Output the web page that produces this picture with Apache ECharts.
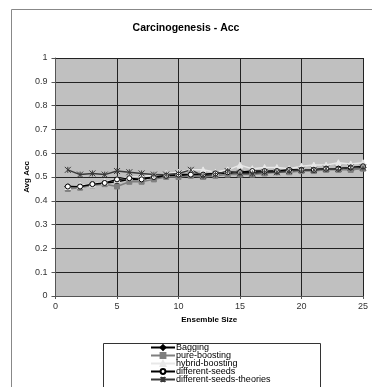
<!DOCTYPE html>
<html><head><meta charset="utf-8">
<script src="https://cdn.jsdelivr.net/npm/echarts@6/dist/echarts.min.js"></script>
<style>html,body{margin:0;padding:0;background:#fff}#c{width:372px;height:387px}</style>
</head><body><div id="c"></div>
<script>
const ensembleSize = [1,2,3,4,5,6,7,8,9,10,11,12,13,14,15,16,17,18,19,20,21,22,23,24,25];
const bagging = [0.46,0.46,0.47,0.475,0.48,0.49,0.49,0.50,0.505,0.505,0.51,0.51,0.515,0.515,0.52,0.52,0.52,0.525,0.525,0.53,0.53,0.535,0.535,0.54,0.54];
const pureBoosting = [0.45,0.455,0.465,0.47,0.46,0.48,0.48,0.49,0.50,0.50,0.505,0.50,0.505,0.51,0.51,0.51,0.515,0.52,0.52,0.525,0.525,0.53,0.53,0.53,0.535];
const hybridBoosting = [0.46,0.465,0.47,0.48,0.49,0.50,0.50,0.51,0.515,0.52,0.53,0.53,0.52,0.53,0.55,0.535,0.54,0.54,0.535,0.545,0.55,0.55,0.56,0.555,0.56];
const differentSeeds = [0.46,0.46,0.47,0.475,0.49,0.495,0.49,0.50,0.505,0.51,0.51,0.51,0.515,0.52,0.52,0.525,0.525,0.525,0.53,0.53,0.53,0.535,0.535,0.54,0.545];
const differentSeedsTheories = [0.53,0.51,0.515,0.51,0.525,0.52,0.515,0.51,0.51,0.515,0.53,0.505,0.51,0.525,0.515,0.515,0.52,0.52,0.525,0.53,0.53,0.535,0.535,0.54,0.54];
const yTicks = [0,0.1,0.2,0.3,0.4,0.5,0.6,0.7,0.8,0.9,1];
const xTicks = [0,5,10,15,20,25];

const pair = arr => ensembleSize.map((x,i)=>[x,arr[i]]);
const F = 'Liberation Sans, Arial, sans-serif';
const star = 'path://M0,0L10,10M10,0L0,10M5,0L5,10';

function mk(name, data, color, symbol, fill, border, size){
  return {name, type:'line', data:pair(data), symbol, symbolSize:size,
    lineStyle:{color, width:1.5}, itemStyle:{color:fill, borderColor:border, borderWidth:1},
    emphasis:{disabled:true}, animation:false};
}

const chart = echarts.init(document.getElementById('c'), null, {renderer:'canvas'});
chart.setOption({
  backgroundColor:'#fff',
  animation:false,
  title:{text:'Carcinogenesis - Acc', left:'center', top:18,
    textStyle:{fontFamily:F, fontSize:10.5, fontWeight:'bold', color:'#000'}},
  graphic:[
    {type:'rect', left:9, top:7, shape:{width:420, height:420}, style:{fill:'none', stroke:'#888', lineWidth:1}, z:-1},
    {type:'rect', left:103, top:343, shape:{width:217, height:60}, style:{fill:'#fff', stroke:'#333', lineWidth:1}, z:0}
  ],
  grid:{left:55.5, right:9, top:58, bottom:91, show:true, backgroundColor:'#c0c0c0', borderColor:'#808080', borderWidth:0},
  xAxis:{type:'value', min:0, max:25, interval:5,
    name:'Ensemble Size', nameLocation:'middle', nameGap:19,
    nameTextStyle:{fontFamily:F, fontSize:8, fontWeight:'bold', color:'#000'},
    axisLine:{show:true, lineStyle:{color:'#555', width:1}},
    axisTick:{show:true, inside:false, length:3, lineStyle:{color:'#555'}},
    axisLabel:{fontFamily:F, fontSize:9, color:'#333', margin:6,
      formatter:v=>xTicks.includes(v)?String(v):''},
    splitLine:{show:true, lineStyle:{color:'#222', width:1}}},
  yAxis:{type:'value', min:0, max:1, interval:0.1,
    name:'Avg Acc', nameLocation:'middle', nameGap:25, nameRotate:90, nameMoveOverlap:false,
    nameTextStyle:{fontFamily:F, fontSize:8, fontWeight:'bold', color:'#000', padding:[0,0,0,0]},
    axisLine:{show:true, lineStyle:{color:'#555', width:1}},
    axisTick:{show:true, inside:false, length:4, lineStyle:{color:'#555'}},
    axisLabel:{fontFamily:F, fontSize:9, color:'#333', margin:8,
      formatter:v=>{const t=yTicks.find(y=>Math.abs(y-v)<1e-9);return t===undefined?'':String(t);}},
    splitLine:{show:true, lineStyle:{color:'#222', width:1}}},
  legend:{orient:'vertical', left:150, top:343, height:80, itemWidth:24, itemHeight:6, itemGap:-1,
    padding:[0,0,0,0],
    textStyle:{fontFamily:F, fontSize:9, lineHeight:8, color:'#000', padding:[0,0,0,-4]},
    data:['Bagging','pure-boosting','hybrid-boosting','different-seeds','different-seeds-theories']},
  series:[
    mk('Bagging', bagging, '#000', 'diamond', '#000', '#000', 6),
    mk('pure-boosting', pureBoosting, '#7f7f7f', 'rect', '#7f7f7f', '#7f7f7f', 5),
    mk('hybrid-boosting', hybridBoosting, '#e8e8e8', 'triangle', '#e8e8e8', '#e8e8e8', 6),
    mk('different-seeds', differentSeeds, '#000', 'circle', '#fff', '#000', 5),
    mk('different-seeds-theories', differentSeedsTheories, '#3a3a3a', star, '#3a3a3a', '#3a3a3a', 6)
  ]
});
</script></body></html>
